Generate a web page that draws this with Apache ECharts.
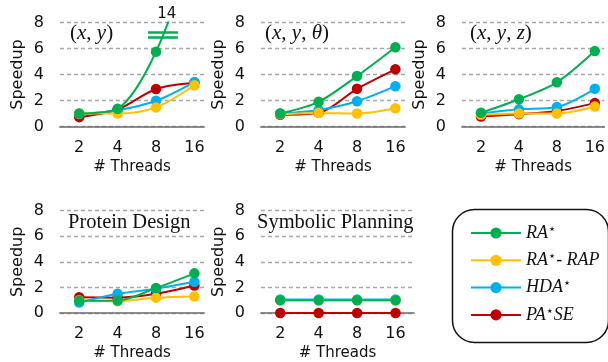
<!DOCTYPE html>
<html><head><meta charset="utf-8">
<script src="https://cdn.jsdelivr.net/npm/echarts@6/dist/echarts.min.js"></script>
<style>html,body{margin:0;padding:0;background:#fff}#c{width:608px;height:362px}</style>
</head><body><div id="c"></div>
<script>
// ---- data ----
const threads = [2, 4, 8, 16];
const yTicks = [0, 2, 4, 6, 8];
const seriesNames = ['RA*', 'RA*-RAP', 'HDA*', 'PA*SE'];
// (x, y)
const xy_RA   = [1.0, 1.37, 5.75, 14];
const xy_RAP  = [1.0, 1.0, 1.47, 3.17];
const xy_HDA  = [0.96, 1.25, 1.98, 3.42];
const xy_PASE = [0.72, 1.3, 2.88, 3.36];
// (x, y, theta)
const xyt_RA   = [1.0, 1.9, 3.88, 6.1];
const xyt_RAP  = [0.95, 1.04, 1.0, 1.4];
const xyt_HDA  = [1.0, 1.27, 1.94, 3.1];
const xyt_PASE = [0.9, 1.05, 2.9, 4.4];
// (x, y, z)
const xyz_RA   = [1.06, 2.1, 3.4, 5.8];
const xyz_RAP  = [0.9, 1.0, 1.0, 1.54];
const xyz_HDA  = [1.0, 1.32, 1.5, 2.9];
const xyz_PASE = [0.76, 0.95, 1.2, 1.8];
// Protein Design
const pd_RA   = [0.95, 0.97, 1.95, 3.1];
const pd_RAP  = [1.0, 0.92, 1.2, 1.3];
const pd_HDA  = [0.82, 1.5, 1.9, 2.44];
const pd_PASE = [1.23, 1.2, 1.5, 2.15];
// Symbolic Planning
const sp_RA   = [1.0, 1.0, 1.0, 1.0];
const sp_RAP  = [1.0, 1.0, 1.0, 1.0];
const sp_HDA  = [1.06, 1.06, 1.06, 1.06];
const sp_PASE = [0, 0, 0, 0];

const colors = {'RA*': '#00b050', 'RA*-RAP': '#ffc000', 'HDA*': '#00b0f0', 'PA*SE': '#c00000'};

const panels = [
  {vals: {'RA*': xy_RA, 'RA*-RAP': xy_RAP, 'HDA*': xy_HDA, 'PA*SE': xy_PASE}, left: 60, top: 22.5, width: 144, xmax: 4.25},
  {vals: {'RA*': xyt_RA, 'RA*-RAP': xyt_RAP, 'HDA*': xyt_HDA, 'PA*SE': xyt_PASE}, left: 261, top: 22.5, width: 144, xmax: 4.25},
  {vals: {'RA*': xyz_RA, 'RA*-RAP': xyz_RAP, 'HDA*': xyz_HDA, 'PA*SE': xyz_PASE}, left: 462, top: 22.5, width: 144, xmax: 4.25},
  {vals: {'RA*': pd_RA, 'RA*-RAP': pd_RAP, 'HDA*': pd_HDA, 'PA*SE': pd_PASE}, left: 60, top: 210.7, width: 144, xmax: 4.25},
  {vals: {'RA*': sp_RA, 'RA*-RAP': sp_RAP, 'HDA*': sp_HDA, 'PA*SE': sp_PASE}, left: 261, top: 210.7, width: 153, xmax: 4.48}
];
const drawOrder = ['PA*SE', 'HDA*', 'RA*-RAP', 'RA*'];
const FONT = 'DejaVu Sans';

const grid = [], xAxis = [], yAxis = [], series = [];
panels.forEach((p, gi) => {
  grid.push({left: p.left, top: p.top, width: p.width, height: 104});
  xAxis.push({
    type: 'value', gridIndex: gi, min: 0.5, max: p.xmax,
    axisLine: {show: true, onZero: false, lineStyle: {color: '#6b6b6b', width: 1.7}},
    axisTick: {show: false}, splitLine: {show: false},
    axisLabel: {customValues: threads.map(t => Math.log2(t)), formatter: v => String(Math.round(Math.pow(2, v))),
      color: '#111', fontFamily: FONT, fontSize: 16, margin: 13},
    name: '# Threads', nameLocation: 'middle', nameGap: 33,
    nameTextStyle: {color: '#111', fontFamily: FONT, fontSize: 15}
  });
  yAxis.push({
    type: 'value', gridIndex: gi, min: 0, max: 8, interval: 2,
    axisLine: {show: false}, axisTick: {show: false},
    splitLine: {show: true, lineStyle: {color: '#a6a6a6', type: [4, 3], width: 1.3}},
    axisLabel: {color: '#111', fontFamily: FONT, fontSize: 16, margin: 16},
    name: 'Speedup', nameLocation: 'middle', nameGap: 34, nameRotate: 90,
    nameTextStyle: {color: '#111', fontFamily: FONT, fontSize: 16}
  });
  drawOrder.forEach(name => {
    const s = {
      name, type: 'line', xAxisIndex: gi, yAxisIndex: gi,
      data: threads.map((t, i) => [Math.log2(t), p.vals[name][i]]),
      smooth: 0.3, symbol: 'circle', symbolSize: 10.5, showSymbol: true,
      itemStyle: {color: colors[name]}, lineStyle: {color: colors[name], width: 2},
      animation: false, clip: true
    };
    if (gi === 0 && name === 'RA*') {
      s.markLine = {
        silent: true, symbol: ['none', 'none'], animation: false,
        label: {show: false},
        lineStyle: {color: colors['RA*'], width: 2.5, type: 'solid'},
        data: [
          [{coord: [2.79, 7.25]}, {coord: [3.57, 7.25]}],
          [{coord: [2.79, 6.83]}, {coord: [3.57, 6.83]}]
        ]
      };
      s.markPoint = {
        silent: true, animation: false, symbol: 'circle', symbolSize: 0,
        data: [{coord: [3.28, 8], value: xy_RA[3]}],
        label: {show: true, position: 'top', distance: 1, formatter: String(xy_RA[3]),
          color: '#111', fontFamily: FONT, fontSize: 15}
      };
    }
    series.push(s);
  });
});

const mathRich = {
  p: {fontFamily: 'Liberation Serif', fontSize: 21, color: '#111'},
  i: {fontFamily: 'Liberation Serif', fontStyle: 'italic', fontSize: 21, color: '#111'}
};
const plainTitle = {fontFamily: 'Liberation Serif', fontSize: 20.5, fontWeight: 'normal', color: '#111'};
const title = [
  {text: '{p|(}{i|x}{p|, }{i|y}{p|)}', left: 70, top: 23},
  {text: '{p|(}{i|x}{p|, }{i|y}{p|, }{i|θ}{p|)}', left: 265, top: 23},
  {text: '{p|(}{i|x}{p|, }{i|y}{p|, }{i|z}{p|)}', left: 470, top: 23},
  {text: 'Protein Design', left: 68, top: 212, textStyle: plainTitle},
  {text: 'Symbolic Planning', left: 257, top: 212, textStyle: plainTitle}
].map(t => Object.assign({padding: 0, textStyle: {rich: mathRich, fontWeight: 'normal'}}, t));

const legendFmt = {
  'RA*': '{i|RA}{s|⋆}',
  'RA*-RAP': '{i|RA}{s|⋆}{i|- RAP}',
  'HDA*': '{i|HDA}{s|⋆}',
  'PA*SE': '{i|PA}{s|⋆}{i|SE}'
};

const chart = echarts.init(document.getElementById('c'), null, {renderer: 'canvas'});
chart.setOption({
  animation: false,
  backgroundColor: '#fff',
  title,
  grid, xAxis, yAxis, series,
  legend: {
    data: seriesNames, orient: 'vertical', left: 470, top: 223,
    itemWidth: 50, itemHeight: 14, itemGap: 7.3, padding: 0,
    selectedMode: false,
    formatter: n => legendFmt[n],
    textStyle: {lineHeight: 20, rich: {
      i: {fontFamily: 'Liberation Serif', fontStyle: 'italic', fontSize: 18, color: '#111', lineHeight: 20},
      s: {fontFamily: 'DejaVu Sans', fontSize: 13, color: '#111', verticalAlign: 'top', lineHeight: 20}
    }}
  },
  graphic: [{
    type: 'rect', left: 450, top: 207, silent: true,
    shape: {width: 156, height: 133, r: 22},
    style: {fill: 'none', stroke: '#111', lineWidth: 1.5}
  }]
});
</script>
</body></html>
